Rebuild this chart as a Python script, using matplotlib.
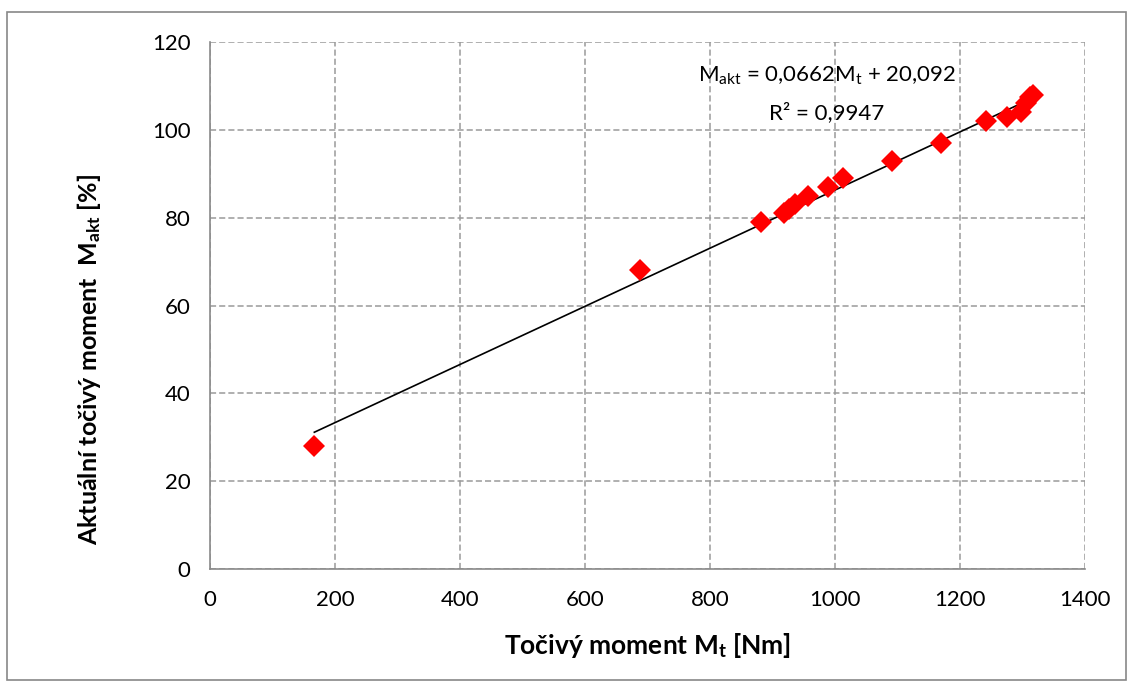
import matplotlib.pyplot as plt
import numpy as np
from matplotlib.patches import Rectangle

plt.rcParams['font.family'] = ['Lato', 'DejaVu Sans']
plt.rcParams['mathtext.fontset'] = 'custom'
plt.rcParams['mathtext.rm'] = 'Lato'
plt.rcParams['mathtext.it'] = 'Lato:italic'
plt.rcParams['mathtext.bf'] = 'Lato:bold'

# data
Mt = [167, 688, 882, 918, 927, 936, 957, 988, 1013, 1091, 1169, 1242, 1275, 1298, 1306, 1312, 1316]
Makt = [28, 68, 79, 81, 82, 83, 85, 87, 89, 93, 97, 102, 103, 104, 106, 107.5, 108]

# trendline given in the chart
k = 0.0662
q = 20.092

xticks = [0, 200, 400, 600, 800, 1000, 1200, 1400]
yticks = [0, 20, 40, 60, 80, 100, 120]

fig = plt.figure(figsize=(11.3, 6.85), dpi=100)
ax = fig.add_axes([0.1858, 0.1693, 0.7744, 0.7694])

fig.patches.append(Rectangle((0.0062, 0.007), 0.99, 0.9755, transform=fig.transFigure,
                             fill=False, edgecolor='#888888', linewidth=1.2))

xl = np.array([min(Mt), max(Mt)])
ax.plot(xl, k * xl + q, color='black', lw=1.2, zorder=2)
ax.plot(Mt, Makt, 'D', color='#ff0000', ms=10.8, markeredgewidth=0, zorder=3)

ax.set_xlim(0, 1400)
ax.set_ylim(0, 120)
ax.set_xticks(xticks)
ax.set_yticks(yticks)
ax.tick_params(length=0, labelsize=16, pad=15)
ax.tick_params(axis='y', pad=14)
ax.grid(True, color='#9a9a9a', linestyle=(0, (4, 2)), linewidth=1.1)
for s in ['top', 'right']:
    ax.spines[s].set_visible(False)
for s in ['left', 'bottom']:
    ax.spines[s].set_color('#8a8a8a')
    ax.spines[s].set_linewidth(1.2)

ax.set_xlabel('Točivý moment M$_{\\mathbf{t}}$ [Nm]', fontsize=19, fontweight='bold')
ax.set_ylabel('Aktuální točivý moment  M$_{\\mathbf{akt}}$ [%]', fontsize=18, fontweight='bold')
ax.xaxis.set_label_coords(0.5, -0.118)
ax.yaxis.set_label_coords(-0.122, 0.398)

ax.text(987, 112.3, 'M$_{\\mathrm{akt}}$ = 0,0662M$_{\\mathrm{t}}$ + 20,092', fontsize=16, ha='center', va='center')
ax.text(987, 103.9, 'R² = 0,9947', fontsize=16, ha='center', va='center')

plt.savefig('out.png', dpi=100)
